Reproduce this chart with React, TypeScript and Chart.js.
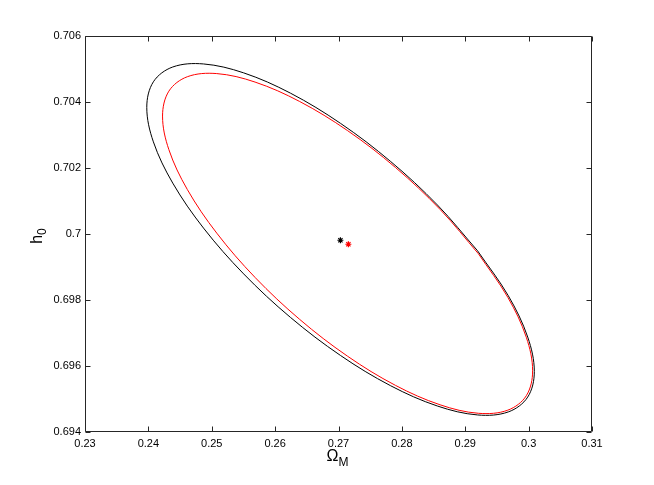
import React, { useEffect, useRef } from "react";
import { Chart, registerables } from "chart.js";

Chart.register(...registerables);

// Black confidence contour (Omega_M, h0)
const blackX = [0.291943, 0.296801, 0.299855, 0.300898, 0.299855, 0.296801, 0.291943, 0.285611, 0.278236, 0.270323, 0.26241, 0.255035, 0.248703, 0.243845, 0.240791, 0.239748, 0.240791, 0.243845, 0.248703, 0.255035, 0.26241, 0.270323, 0.278236, 0.285611, 0.291943];
const blackY = [0.699491, 0.698127, 0.696878, 0.695832, 0.695058, 0.694609, 0.694517, 0.694787, 0.695401, 0.696318, 0.697474, 0.698791, 0.700179, 0.701543, 0.702792, 0.703838, 0.704612, 0.705061, 0.705153, 0.704883, 0.704269, 0.703352, 0.702196, 0.700879, 0.699491];

// Red confidence contour
const redX = [0.292078, 0.296718, 0.299634, 0.30063, 0.299634, 0.296718, 0.292078, 0.286032, 0.278989, 0.271433, 0.263877, 0.256834, 0.250788, 0.246148, 0.243232, 0.242236, 0.243232, 0.246148, 0.250788, 0.256834, 0.263877, 0.271433, 0.278989, 0.286032, 0.292078];
const redY = [0.699401, 0.69808, 0.69687, 0.695854, 0.6951, 0.694662, 0.694567, 0.694824, 0.695413, 0.696296, 0.697412, 0.698684, 0.700027, 0.701348, 0.702558, 0.703574, 0.704328, 0.704766, 0.704861, 0.704604, 0.704015, 0.703132, 0.702016, 0.700744, 0.699401];

// Best-fit points
const bestBlack = { x: 0.2703, y: 0.69981 };
const bestRed = { x: 0.27156, y: 0.69969 };

// Axis ranges / ticks
const xMin = 0.23, xMax = 0.31, xStep = 0.01;
const yMin = 0.694, yMax = 0.706, yStep = 0.002;

const FONT = "'Liberation Sans', Arial, Helvetica, sans-serif";

const boxPlugin = {
  id: "matlabBox",
  afterDraw(chart: any) {
    const { ctx, chartArea: a, scales } = chart;
    const xs = scales.x, ys = scales.y;
    ctx.save();
    ctx.strokeStyle = "#262626";
    ctx.lineWidth = 1;
    const L = Math.round(a.left) + 0.5, R = Math.round(a.right) - 0.5;
    const T = Math.round(a.top) + 0.5, B = Math.round(a.bottom) - 0.5;
    ctx.beginPath();
    ctx.rect(L, T, R - L, B - T);
    ctx.stroke();
    const tl = 5;
    ctx.beginPath();
    xs.ticks.forEach((t: any) => {
      const px = Math.round(xs.getPixelForValue(t.value)) + 0.5;
      ctx.moveTo(px, B); ctx.lineTo(px, B - tl);
      ctx.moveTo(px, T); ctx.lineTo(px, T + tl);
    });
    ys.ticks.forEach((t: any) => {
      const py = Math.round(ys.getPixelForValue(t.value)) + 0.5;
      ctx.moveTo(L, py); ctx.lineTo(L + tl, py);
      ctx.moveTo(R, py); ctx.lineTo(R - tl, py);
    });
    ctx.stroke();

    // axis titles
    ctx.fillStyle = "#000";
    ctx.textBaseline = "alphabetic";
    ctx.textAlign = "left";
    const cx = (a.left + a.right) / 2;
    ctx.font = `16px ${FONT}`;
    const wO = ctx.measureText("Ω").width;
    ctx.font = `12px ${FONT}`;
    const wM = ctx.measureText("M").width;
    const x0 = cx - (wO + wM) / 2 - 1;
    ctx.font = `16px ${FONT}`;
    ctx.fillText("Ω", x0, 461);
    ctx.font = `12px ${FONT}`;
    ctx.fillText("M", x0 + wO, 466);

    const cy = (a.top + a.bottom) / 2;
    ctx.save();
    ctx.font = `16px ${FONT}`;
    const wh = ctx.measureText("h").width;
    ctx.font = `12px ${FONT}`;
    const w0 = ctx.measureText("0").width;
    ctx.translate(42, cy + (wh + w0) / 2 + 2);
    ctx.rotate(-Math.PI / 2);
    ctx.font = `16px ${FONT}`;
    ctx.fillText("h", 0, 0);
    ctx.font = `12px ${FONT}`;
    ctx.fillText("0", wh, 4);
    ctx.restore();
    ctx.restore();
  },
};

export default function App() {
  const ref = useRef<HTMLCanvasElement>(null);
  useEffect(() => {
    if (!ref.current) return;
    const toPts = (xs: number[], ys: number[]) => xs.map((x, i) => ({ x, y: ys[i] }));
    const chart = new Chart(ref.current, {
      type: "scatter",
      data: {
        datasets: [
          {
            data: toPts(blackX, blackY),
            showLine: true,
            borderColor: "#000000",
            borderWidth: 1,
            pointRadius: 0,
            tension: 0.35,
          },
          {
            data: toPts(redX, redY),
            showLine: true,
            borderColor: "#ff0000",
            borderWidth: 1,
            pointRadius: 0,
            tension: 0.35,
          },
          {
            data: [bestBlack],
            pointStyle: "star",
            pointRadius: 3,
            borderColor: "#000000",
            backgroundColor: "#000000",
            borderWidth: 1.2,
          },
          {
            data: [bestRed],
            pointStyle: "star",
            pointRadius: 3,
            borderColor: "#ff0000",
            backgroundColor: "#ff0000",
            borderWidth: 1.2,
          },
        ],
      },
      options: {
        animation: false,
        responsive: false,
        layout: { padding: { top: 36, right: 62, left: 0, bottom: 0 } },
        plugins: { legend: { display: false }, tooltip: { enabled: false } },
        scales: {
          x: {
            type: "linear",
            min: xMin,
            max: xMax,
            grid: { display: false, drawTicks: false },
            border: { display: false },
            ticks: {
              stepSize: xStep,
              color: "#000",
              padding: 5,
              maxRotation: 0,
              font: { family: FONT, size: 11 },
              callback: (v: any) => String(parseFloat(Number(v).toFixed(4))),
            },
            afterFit: (s: any) => { s.height = 53; },
          },
          y: {
            type: "linear",
            min: yMin,
            max: yMax,
            grid: { display: false, drawTicks: false },
            border: { display: false },
            ticks: {
              stepSize: yStep,
              color: "#000",
              padding: 4,
              font: { family: FONT, size: 11 },
              callback: (v: any) => String(parseFloat(Number(v).toFixed(4))),
            },
            afterFit: (s: any) => { s.width = 85; },
          },
        },
      },
      plugins: [boxPlugin],
    });
    return () => chart.destroy();
  }, []);
  return (
    <div style={{ position: "absolute", left: 0, top: 0, width: 654, height: 485, background: "#fff" }}>
      <canvas ref={ref} width={654} height={485} style={{ width: 654, height: 485 }} />
    </div>
  );
}
